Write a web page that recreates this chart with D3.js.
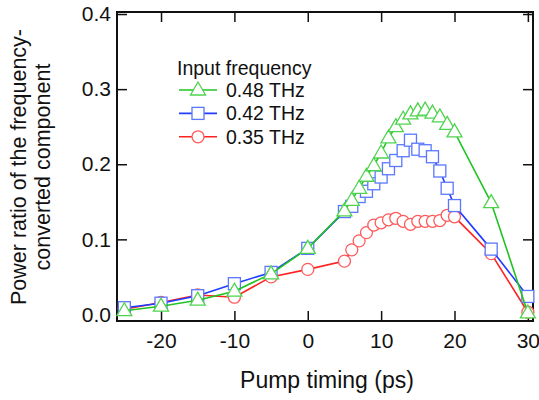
<!DOCTYPE html>
<html>
<head>
<meta charset="utf-8">
<script src="https://cdn.jsdelivr.net/npm/d3@7"></script>
<style>
  body { margin: 0; background: #fff; }
  text { font-family: "Liberation Sans", Arial, sans-serif; fill: #111; }
</style>
</head>
<body>
<div id="chart"></div>
<script>
// pump timing (ps) for each series
const t48 = [-25, -20, -15, -10, -5, 0, 5, 6, 7, 8, 9, 10, 11, 12, 13, 14, 15, 16, 17, 18, 19, 20, 25, 30];
const v48 = [0.005, 0.011, 0.019, 0.031, 0.054, 0.088, 0.138, 0.152, 0.168, 0.184, 0.198, 0.215, 0.235, 0.250, 0.260, 0.267, 0.271, 0.272, 0.268, 0.263, 0.253, 0.243, 0.149, 0.002];

const t42 = [-25, -20, -15, -10, -5, 0, 5, 6, 7, 8, 9, 10, 11, 12, 13, 14, 15, 16, 17, 18, 19, 20, 25, 30];
const v42 = [0.009, 0.015, 0.025, 0.041, 0.056, 0.088, 0.137, 0.144, 0.157, 0.164, 0.174, 0.183, 0.194, 0.205, 0.218, 0.232, 0.220, 0.218, 0.210, 0.191, 0.168, 0.145, 0.087, 0.024];

const t35 = [-25, -20, -15, -10, -5, 0, 5, 6, 7, 8, 9, 10, 11, 12, 13, 14, 15, 16, 17, 18, 19, 20, 25, 30];
const v35 = [0.007, 0.016, 0.026, 0.023, 0.050, 0.060, 0.071, 0.086, 0.098, 0.109, 0.119, 0.122, 0.126, 0.128, 0.124, 0.120, 0.124, 0.124, 0.124, 0.125, 0.132, 0.130, 0.081, 0.003];

const xTicks = [-20, -10, 0, 10, 20, 30];
const yTicks = [0.0, 0.1, 0.2, 0.3, 0.4];

const legendTitle = "Input frequency";
const seriesNames = ["0.48 THz", "0.42 THz", "0.35 THz"];

const series = [
  {name: seriesNames[0], t: t48, v: v48, line: "#22c322", mark: "#4fd34f", shape: "tri"},
  {name: seriesNames[1], t: t42, v: v42, line: "#1f3cff", mark: "#5a78ff", shape: "sq"},
  {name: seriesNames[2], t: t35, v: v35, line: "#ff2222", mark: "#ff5a5a", shape: "circ"}
];

const W = 539, H = 400;
const margin = {top: 12, right: 6, bottom: 79, left: 117};
const width = W - margin.left - margin.right;
const height = H - margin.top - margin.bottom;

const svg = d3.select("#chart").append("svg")
    .attr("width", W)
    .attr("height", H)
  .append("g")
    .attr("transform", "translate(" + margin.left + "," + margin.top + ")");

const x = d3.scaleLinear().domain([-26, 30.7]).range([0, width]);
const y = d3.scaleLinear().domain([-0.0087, 0.4027]).range([height, 0]);

// axes with inward ticks on all four sides
const fmtY = d3.format(".1f");
svg.append("g")
    .attr("transform", "translate(0," + height + ")")
    .call(d3.axisBottom(x).tickValues(xTicks).tickSize(-10).tickPadding(12).tickFormat(d => String(d)))
    .call(g => g.selectAll("text").attr("font-size", 21).attr("fill", "#111"));
svg.append("g")
    .call(d3.axisTop(x).tickValues(xTicks).tickSize(-10).tickFormat(""));
svg.append("g")
    .call(d3.axisLeft(y).tickValues(yTicks).tickSize(-10).tickPadding(6).tickFormat(fmtY))
    .call(g => g.selectAll("text").attr("font-size", 21).attr("fill", "#111"));
svg.append("g")
    .attr("transform", "translate(" + width + ",0)")
    .call(d3.axisRight(y).tickValues(yTicks).tickSize(-10).tickFormat(""));

svg.selectAll(".domain").remove();
svg.selectAll(".tick line").attr("stroke", "#111").attr("stroke-width", 1.5);
svg.append("rect")
    .attr("width", width)
    .attr("height", height)
    .attr("fill", "none")
    .attr("stroke", "#111")
    .attr("stroke-width", 2);

// marker drawing
function marker(g, shape, color) {
  if (shape === "tri") {
    g.append("path").attr("d", "M0,-8L7.5,5L-7.5,5Z")
      .attr("fill", "#fff").attr("stroke", color).attr("stroke-width", 1.3);
  } else if (shape === "sq") {
    g.append("rect").attr("x", -6).attr("y", -6).attr("width", 12).attr("height", 12)
      .attr("fill", "#fff").attr("stroke", color).attr("stroke-width", 1.3);
  } else {
    g.append("circle").attr("r", 6)
      .attr("fill", "#fff").attr("stroke", color).attr("stroke-width", 1.3);
  }
}

const line = d3.line().x(d => x(d[0])).y(d => y(d[1]));

// draw from back (red) to front (green)
series.slice().reverse().forEach(s => {
  const pts = s.t.map((t, i) => [t, s.v[i]]);
  svg.append("path")
      .datum(pts)
      .attr("fill", "none")
      .attr("stroke", s.line)
      .attr("stroke-width", 1.6)
      .attr("d", line);
  pts.forEach(p => {
    const g = svg.append("g").attr("transform", "translate(" + x(p[0]) + "," + y(p[1]) + ")");
    marker(g, s.shape, s.mark);
  });
});

// legend
const lg = svg.append("g").attr("transform", "translate(" + (179 - margin.left) + "," + (90 - margin.top) + ")");
lg.append("text").attr("x", -2).attr("y", -15).attr("font-size", 19.5).text(legendTitle);
series.forEach((s, i) => {
  const row = lg.append("g").attr("transform", "translate(0," + (i * 23.4) + ")");
  row.append("line").attr("x1", 0).attr("x2", 38).attr("stroke", s.line).attr("stroke-width", 1.6);
  const m = row.append("g").attr("transform", "translate(19,0)");
  marker(m, s.shape, s.mark);
  row.append("text").attr("x", 47).attr("y", 7).attr("font-size", 19.5).text(s.name);
});

// axis titles
svg.append("text")
    .attr("text-anchor", "middle")
    .attr("font-size", 23)
    .attr("x", width / 2 + 2)
    .attr("y", 388 - margin.top)
    .text("Pump timing (ps)");

const yt = svg.append("text")
    .attr("text-anchor", "middle")
    .attr("font-size", 21.5)
    .attr("transform", "rotate(-90)");
yt.append("tspan").attr("x", -(167 - margin.top)).attr("y", 26 - margin.left).text("Power ratio of the frequency-");
yt.append("tspan").attr("x", -(167 - margin.top)).attr("y", 50 - margin.left).text("converted component");
</script>
</body>
</html>
